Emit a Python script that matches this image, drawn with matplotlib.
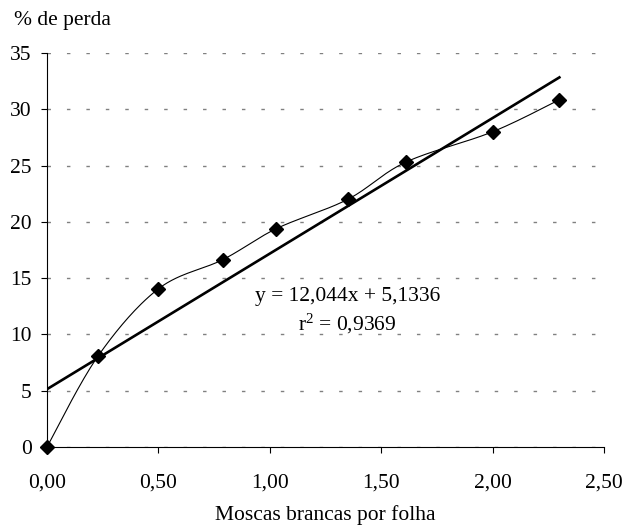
import matplotlib
matplotlib.use("Agg")
import matplotlib.pyplot as plt
import numpy as np
from matplotlib.ticker import FuncFormatter

plt.rcParams['font.family'] = ['Liberation Serif', 'DejaVu Serif']
plt.rcParams['mathtext.fontset'] = 'custom'
plt.rcParams['mathtext.rm'] = 'Liberation Serif'
plt.rcParams['mathtext.it'] = 'Liberation Serif'

# dados
moscas = [0.0, 0.23, 0.50, 0.79, 1.03, 1.35, 1.61, 2.00, 2.30]
perda = [0.0, 8.1, 14.05, 16.65, 19.4, 22.0, 25.3, 28.0, 30.85]
a, b = 12.044, 5.1336
r2 = 0.9369
fs = 15.5


# curva suavizada tipo Excel (Catmull-Rom)
def suaviza(x, y, n=30):
    p = np.column_stack([x, y])
    pts = [p[0]] + list(p) + [p[-1]]
    out = []
    for i in range(1, len(pts) - 2):
        p0, p1, p2, p3 = pts[i - 1], pts[i], pts[i + 1], pts[i + 2]
        c1 = p1 + (p2 - p0) / 6
        c2 = p2 - (p3 - p1) / 6
        t = np.linspace(0, 1, n)[:, None]
        seg = (1 - t) ** 3 * p1 + 3 * (1 - t) ** 2 * t * c1 + 3 * (1 - t) * t ** 2 * c2 + t ** 3 * p2
        out.append(seg)
    s = np.vstack(out)
    return s[:, 0], s[:, 1]


fig = plt.figure(figsize=(6.23, 5.25), dpi=100)
ax = fig.add_axes([0.0754, 0.1486, 0.894, 0.7504])

sx, sy = suaviza(moscas, perda)
ax.plot(sx, sy, color='black', lw=0.8)
ax.plot(moscas, perda, 'D', color='black', ms=7.5, clip_on=False, zorder=5)

xt = np.array([0, max(moscas)])
ax.plot(xt, a * xt + b, color='black', lw=1.9)

ax.set_xlim(0, 2.5)
ax.set_ylim(0, 35)
ax.set_xticks(np.arange(0, 2.51, 0.5))
ax.set_yticks(range(0, 36, 5))
ax.xaxis.set_major_formatter(FuncFormatter(lambda v, p: f"{v:.2f}".replace('.', ',')))
ax.yaxis.grid(True, color='#808080', ls=(0, (2.5, 11.5)), lw=1)
ax.set_axisbelow(True)
for s in ['top', 'right']:
    ax.spines[s].set_visible(False)
ax.tick_params(axis='x', direction='out', length=4, pad=15, labelsize=fs)
ax.tick_params(axis='y', direction='out', length=4, pad=7, labelsize=fs)

ax.set_xlabel('Moscas brancas por folha', fontsize=fs, labelpad=9)
fig.text(0.022, 0.96, '% de perda', fontsize=fs, va='center', ha='left')

eq = f"y = {a:.3f}x + {b:.4f}".replace('.', ',')
ax.text(1.35, 13.4, eq, fontsize=fs, ha='center', va='center')
ax.text(1.35, 10.9, r"r$^{\mathregular{2}}$ = " + f"{r2}".replace('.', ','),
        fontsize=fs, ha='center', va='center')

fig.savefig('out.png', dpi=100)
